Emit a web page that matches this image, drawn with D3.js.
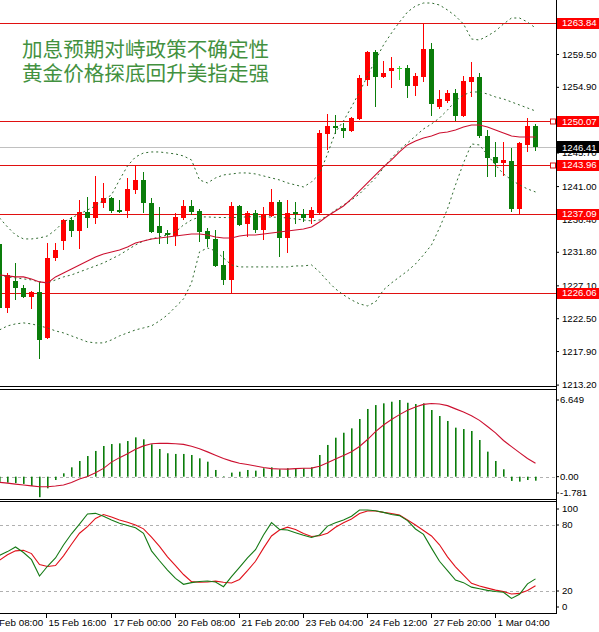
<!DOCTYPE html>
<html><head><meta charset="utf-8">
<script src="https://cdn.jsdelivr.net/npm/d3@7/dist/d3.min.js"></script>
<style>
body{margin:0;background:#fff}
svg{display:block;background:#fff}
text{font-family:"Liberation Sans",Arial,sans-serif}
</style>
</head><body>
<svg id="c" width="599" height="632"></svg>
<script>
// ---------------- DATA ----------------
const titleLines = ["加息预期对峙政策不确定性", "黄金价格探底回升美指走强"];
const firstBar = -1; // bar index of the first (partly visible) candle; bars -1..66, 4H
const open  = [1232.90,1223.94,1227.72,1226.74,1225.48,1226.18,1219.74,1230.94,1233.32,1236.26,1234.72,1237.38,1236.54,1238.64,1239.34,1237.66,1237.52,1240.46,1241.86,1238.64,1235.42,1234.44,1234.02,1236.54,1238.22,1237.52,1234.72,1233.60,1229.96,1227.86,1238.22,1235.70,1237.24,1234.86,1236.82,1238.78,1233.74,1237.38,1237.10,1236.54,1237.24,1248.30,1249.42,1249.14,1248.72,1250.40,1255.86,1259.78,1256.28,1257.12,1257.54,1257.54,1255.02,1256.28,1260.20,1252.08,1252.92,1254.04,1250.82,1255.58,1256.28,1248.02,1245.08,1244.24,1244.52,1237.80,1246.76,1249.42];
const high  = [1233.18,1228.84,1230.24,1227.16,1226.32,1227.58,1233.04,1233.04,1236.40,1236.68,1239.06,1239.48,1242.42,1241.44,1239.48,1239.06,1242.14,1243.96,1242.98,1239.34,1238.08,1234.86,1237.24,1239.06,1239.06,1237.80,1235.14,1234.86,1231.92,1238.78,1238.36,1237.52,1237.66,1238.08,1240.60,1239.06,1239.06,1238.78,1237.80,1238.08,1248.86,1251.10,1250.96,1249.84,1250.68,1256.56,1259.92,1260.06,1258.52,1259.08,1257.82,1257.96,1256.84,1263.84,1261.04,1254.46,1254.46,1254.60,1256.42,1258.38,1256.84,1248.86,1247.18,1247.18,1246.34,1247.18,1250.54,1249.70];
const low   = [1223.66,1223.24,1225.06,1225.34,1223.80,1216.80,1219.60,1230.52,1232.06,1233.88,1232.20,1235.14,1235.70,1237.94,1237.24,1237.24,1236.54,1239.90,1237.24,1234.44,1232.90,1232.90,1232.62,1236.26,1236.96,1233.18,1232.48,1229.68,1227.16,1226.06,1235.42,1233.88,1234.44,1233.46,1236.68,1231.08,1231.64,1235.70,1235.98,1235.70,1237.10,1246.06,1248.30,1247.74,1248.58,1250.26,1255.02,1252.08,1256.14,1254.74,1255.86,1253.34,1253.62,1255.58,1250.82,1251.80,1252.64,1250.12,1250.68,1253.48,1247.74,1242.28,1242.28,1242.42,1237.38,1237.09,1245.78,1245.92];
const close = [1223.94,1228.56,1226.74,1225.48,1226.18,1219.46,1230.94,1232.06,1236.26,1234.72,1237.38,1236.54,1238.78,1239.34,1237.52,1237.38,1240.60,1241.86,1238.64,1234.58,1234.44,1234.16,1236.68,1238.22,1237.38,1234.58,1233.60,1229.82,1227.86,1238.22,1235.56,1237.24,1234.86,1237.10,1238.78,1233.74,1237.24,1237.10,1236.54,1237.66,1248.44,1249.42,1249.14,1248.72,1250.54,1256.14,1259.78,1256.28,1256.84,1257.54,1257.54,1255.02,1256.42,1260.20,1252.50,1253.20,1254.04,1250.82,1255.72,1256.28,1248.02,1244.94,1244.24,1244.66,1237.80,1247.04,1249.42,1246.41];

const bbUpper  = [1236.54,1235.28,1234.16,1233.60,1233.60,1233.74,1234.02,1234.86,1235.98,1236.54,1237.10,1237.66,1238.22,1239.06,1239.76,1241.86,1243.82,1245.08,1245.64,1245.78,1245.78,1245.64,1245.50,1245.22,1244.66,1241.86,1241.44,1242.14,1242.56,1242.70,1242.84,1242.84,1242.70,1242.42,1242.14,1241.86,1241.44,1241.16,1240.88,1241.58,1242.70,1245.50,1248.58,1250.12,1252.08,1254.18,1256.42,1258.66,1260.76,1262.44,1263.98,1265.38,1266.22,1266.64,1266.64,1266.36,1265.66,1264.82,1263.70,1261.60,1261.46,1262.02,1262.72,1263.70,1264.54,1264.54,1263.98,1263.14];
const bbMiddle = [1228.42,1228.28,1228.14,1228.00,1227.86,1227.58,1227.44,1227.86,1228.28,1228.56,1228.98,1229.40,1229.82,1230.24,1230.80,1231.36,1232.06,1232.76,1233.32,1233.60,1233.88,1234.16,1234.58,1235.56,1236.26,1236.68,1236.68,1236.62,1236.60,1236.58,1236.62,1236.70,1236.72,1236.70,1236.66,1236.62,1236.54,1236.40,1236.26,1236.12,1236.26,1236.82,1237.66,1238.36,1239.06,1239.90,1241.02,1242.14,1243.54,1244.94,1246.06,1247.04,1248.02,1249.00,1249.70,1250.54,1251.66,1252.92,1253.76,1254.18,1254.18,1253.90,1253.48,1253.20,1252.78,1252.36,1251.94,1251.52];
const bbLower  = [1220.86,1221.42,1221.70,1221.84,1221.70,1221.42,1221.14,1220.72,1220.44,1220.02,1219.60,1219.18,1219.04,1219.04,1219.46,1220.02,1220.44,1220.86,1221.14,1221.42,1222.12,1222.96,1224.08,1225.20,1227.44,1231.78,1232.34,1231.92,1230.94,1229.96,1229.68,1229.68,1229.68,1229.68,1229.68,1229.68,1229.68,1229.82,1229.82,1229.96,1228.98,1227.72,1226.60,1225.76,1225.06,1224.50,1224.22,1224.78,1226.46,1227.44,1228.28,1229.12,1230.10,1231.36,1232.76,1235.14,1237.80,1241.16,1244.24,1246.90,1246.76,1245.36,1243.96,1242.70,1241.86,1241.16,1240.60,1240.18];
const maRed    = [1228.56,1228.42,1228.28,1228.28,1228.00,1227.58,1227.44,1228.28,1228.84,1229.40,1229.96,1230.52,1231.08,1231.50,1231.78,1232.06,1232.48,1233.04,1233.32,1233.60,1233.74,1233.88,1234.02,1234.16,1234.30,1234.30,1234.16,1233.88,1233.74,1233.74,1234.02,1234.16,1234.16,1234.30,1234.44,1234.58,1234.72,1234.86,1235.00,1235.28,1235.98,1236.82,1237.52,1238.22,1239.20,1240.32,1241.44,1242.56,1243.68,1244.66,1245.78,1246.76,1247.32,1247.74,1248.02,1248.44,1248.58,1248.86,1249.28,1249.56,1249.56,1249.28,1248.86,1248.44,1248.02,1247.88,1247.88,1247.88];

const macdHist   = [-0.45,-0.52,-0.57,-0.63,-0.81,-1.781,-1.01,-0.29,0.29,0.81,1.36,1.79,2.23,2.66,2.83,2.89,3.09,3.41,3.24,2.81,2.40,2.03,1.97,1.97,1.88,1.59,1.30,0.58,0.05,0.35,0.43,0.58,0.52,0.73,0.81,0.64,0.73,0.73,0.73,0.81,1.88,2.75,3.38,3.81,4.19,5.00,5.87,6.21,6.36,6.50,6.649,6.41,6.30,6.36,5.78,5.26,4.83,4.25,4.13,3.96,3.18,2.17,1.36,0.64,-0.37,-0.43,-0.29,-0.35];
const macdSignal = [-0.49,-0.56,-0.65,-0.72,-0.80,-0.87,-0.87,-0.81,-0.72,-0.50,-0.20,0.02,0.34,0.72,1.26,1.65,1.99,2.38,2.67,2.86,2.90,2.89,2.86,2.80,2.64,2.43,2.15,1.86,1.58,1.35,1.17,1.05,0.93,0.79,0.70,0.66,0.65,0.70,0.73,0.74,0.90,1.20,1.53,1.84,2.16,2.62,3.22,3.90,4.48,4.96,5.38,5.75,6.05,6.27,6.35,6.30,6.16,5.88,5.60,5.28,4.88,4.35,3.80,3.14,2.60,2.08,1.58,1.16];

const stochK = [52.5,55.8,60,55,48.5,33.6,42.5,50,61.8,72,80.8,90,90.6,88,84.5,81.5,79.5,77.5,72.4,56.5,47.5,39,31.5,26.1,27.6,28.6,29.1,28.2,23.9,33,41.5,50.2,57.5,70.9,82.2,76,75.5,73,70.6,68.6,71,79,82,84.5,88,93.6,93.6,93,91.5,89.5,88.5,84,76.4,71.5,59,47,38.5,30,27.6,23.5,22,20.6,19.6,18.8,13.3,17,26.5,31];
const stochD = [48,53,56.5,57,54,44,42.3,43.2,52,62.5,72.5,78.5,86,89.5,87.3,84.5,82.5,80,76.5,69,60.5,51,43,35,28.5,27.9,28.2,29,28,27.3,30.5,38.5,47,59,70,75.5,78,76,72.3,69.5,70.2,72.5,78,82,85.5,90.5,92.7,92.7,91.5,90.5,89,84.5,80,75,70,62,51,42,34.5,27,24.5,22.6,20.8,19.4,17.3,17.8,20.5,24.8];

const levels      = [1263.84, 1250.07, 1243.96, 1237.09, 1226.06];
const levelMarked = [false, true, true, false, false];
const lastPrice   = 1246.41;
const priceTicks  = [1213.20,1217.90,1222.50,1227.10,1231.80,1236.40,1241.00,1245.70,1250.30,1254.90,1259.50];
const macdTicks   = [6.649, 0.00, -1.781];
const macdTickText= ["6.649", "0.00", "-1.781"];
const stochTicks  = [100, 80, 20, 0];
const stochLevels = [80, 20];
const timeTickBars   = [-3, 5, 13, 21, 29, 37, 45, 53, 61];
const timeTickLabels = ["14 Feb 08:00","15 Feb 16:00","17 Feb 00:00","20 Feb 08:00","21 Feb 20:00","23 Feb 04:00","24 Feb 12:00","27 Feb 20:00","1 Mar 04:00"];

// ---------------- LAYOUT ----------------
const svg = d3.select("#c");
const plotR = 556;
const mainP  = {top: 0,   bottom: 387};
const macdP  = {top: 390, bottom: 499};
const stochP = {top: 502, bottom: 613};

const x  = d3.scaleLinear().domain([-1, 66]).range([-0.5, 535.5]);
const yP = d3.scaleLinear().domain([1213.20, 1263.84]).range([384.6, 23]);
const yM = d3.scaleLinear().domain([-1.781, 6.649]).range([497.2, 400]);
const yS = d3.scaleLinear().domain([0, 100]).range([613, 503]);

const barK = i => i + firstBar;

function clip(id, p){
  svg.append("clipPath").attr("id", id).append("rect")
    .attr("x", 0).attr("y", p.top).attr("width", plotR).attr("height", p.bottom - p.top);
}
clip("cMain", mainP); clip("cMacd", macdP); clip("cStoch", stochP);

const gMain = svg.append("g").attr("clip-path", "url(#cMain)");

// title
const gT = gMain.append("g");
titleLines.forEach((t, i) => {
  gT.append("text").attr("x", 22).attr("y", 57 + i * 24)
    .attr("fill", "#43913f").attr("font-size", 20.6)
    .style("font-family", '"Noto Sans CJK SC","Noto Sans CJK JP",sans-serif')
    .text(t);
});

// current price grey line
gMain.append("line").attr("x1", 0).attr("x2", plotR)
  .attr("y1", Math.round(yP(lastPrice)) + 0.5).attr("y2", Math.round(yP(lastPrice)) + 0.5)
  .attr("stroke", "#c0c0c0").attr("stroke-width", 1);

// level lines
levels.forEach((v, i) => {
  const yy = Math.round(yP(v)) + 0.5;
  gMain.append("line").attr("x1", 0).attr("x2", plotR).attr("y1", yy).attr("y2", yy)
    .attr("stroke", "#e01010").attr("stroke-width", 1);
  if (levelMarked[i]) {
    gMain.append("rect").attr("x", 550.5).attr("y", yy - 2.5).attr("width", 5).attr("height", 5)
      .attr("fill", "#fff").attr("stroke", "#e01010").attr("stroke-width", 1);
  }
});

// candles
const bull = "#ff0000", bear = "#0a7d0a", doji = "#33dd33";
d3.range(open.length).forEach(i => {
  const k = barK(i), cx = x(k);
  const o = open[i], c = close[i];
  const col = c > o ? bull : (c < o ? bear : doji);
  gMain.append("line").attr("x1", cx).attr("x2", cx)
    .attr("y1", yP(high[i])).attr("y2", yP(low[i]))
    .attr("stroke", col).attr("stroke-width", 1).attr("shape-rendering", "crispEdges");
  if (c === o) {
    gMain.append("line").attr("x1", cx - 2.5).attr("x2", cx + 2.5)
      .attr("y1", Math.round(yP(o)) + 0.5).attr("y2", Math.round(yP(o)) + 0.5)
      .attr("stroke", col).attr("stroke-width", 1);
  } else {
    const y1 = yP(Math.max(o, c)), y2 = yP(Math.min(o, c));
    gMain.append("rect").attr("x", cx - 2.5).attr("width", 5)
      .attr("y", y1).attr("height", Math.max(1, y2 - y1))
      .attr("fill", col).attr("shape-rendering", "crispEdges");
  }
});

// bollinger bands & red MA
const lineP = d3.line().x((d, i) => x(barK(i))).y(d => yP(d));
[bbUpper, bbMiddle, bbLower].forEach(arr => {
  gMain.append("path").attr("d", lineP(arr)).attr("fill", "none")
    .attr("stroke", "#2f6a2f").attr("stroke-width", 1).attr("stroke-dasharray", "2,3");
});
gMain.append("path").attr("d", lineP(maRed)).attr("fill", "none")
  .attr("stroke", "#cc1030").attr("stroke-width", 1.1);

// ---------------- MACD ----------------
const gMacd = svg.append("g").attr("clip-path", "url(#cMacd)");
gMacd.append("line").attr("x1", 0).attr("x2", plotR)
  .attr("y1", Math.round(yM(0)) + 0.5).attr("y2", Math.round(yM(0)) + 0.5)
  .attr("stroke", "#b0b0b0").attr("stroke-dasharray", "3,3");
macdHist.forEach((v, i) => {
  const cx = x(barK(i));
  const y0 = yM(0), y1 = yM(v);
  gMacd.append("rect").attr("x", cx - 0.5).attr("width", 1.6)
    .attr("y", Math.min(y0, y1)).attr("height", Math.abs(y1 - y0))
    .attr("fill", "#0a7d0a");
});
const lineM = d3.line().x((d, i) => x(barK(i))).y(d => yM(d));
gMacd.append("path").attr("d", lineM(macdSignal)).attr("fill", "none")
  .attr("stroke", "#cc1030").attr("stroke-width", 1.1);

// ---------------- STOCHASTIC ----------------
const gSt = svg.append("g").attr("clip-path", "url(#cStoch)");
stochLevels.forEach(v => {
  gSt.append("line").attr("x1", 0).attr("x2", plotR)
    .attr("y1", Math.round(yS(v)) + 0.5).attr("y2", Math.round(yS(v)) + 0.5)
    .attr("stroke", "#b0b0b0").attr("stroke-dasharray", "3,3");
});
const lineS = d3.line().x((d, i) => x(barK(i))).y(d => yS(d));
gSt.append("path").attr("d", lineS(stochD)).attr("fill", "none")
  .attr("stroke", "#e0101a").attr("stroke-width", 1.1);
gSt.append("path").attr("d", lineS(stochK)).attr("fill", "none")
  .attr("stroke", "#157a15").attr("stroke-width", 1.1);

// ---------------- FRAMES ----------------
const frame = svg.append("g").attr("stroke", "#000").attr("stroke-width", 1).attr("shape-rendering", "crispEdges");
[mainP.bottom - 0.5, macdP.top - 0.5, macdP.bottom + 0.5, stochP.top - 0.5, stochP.bottom + 0.5].forEach(yy => {
  frame.append("line").attr("x1", 0).attr("x2", plotR).attr("y1", yy).attr("y2", yy);
});
frame.append("line").attr("x1", plotR + 0.5).attr("x2", plotR + 0.5).attr("y1", 0).attr("y2", stochP.bottom + 0.5);

// ---------------- AXES ----------------
const fs = 9.6;
const axP = d3.axisRight(yP).tickValues(priceTicks).tickFormat(d3.format(".2f")).tickSize(3).tickPadding(3);
const gAx = svg.append("g").attr("transform", `translate(${plotR},0)`).call(axP);
gAx.select(".domain").remove();
gAx.selectAll("text").attr("font-size", fs).attr("fill", "#000").style("font-family", '"Liberation Sans",Arial,sans-serif');

// level label boxes
levels.forEach(v => {
  const yy = yP(v);
  svg.append("rect").attr("x", plotR + 1).attr("y", Math.round(yy) - 5).attr("width", 43).attr("height", 11).attr("fill", "#ff0000");
  svg.append("text").attr("x", plotR + 6).attr("y", yy).attr("dy", "0.35em")
    .attr("font-size", fs).attr("fill", "#fff").text(d3.format(".2f")(v));
});
// last price box
{
  const yy = yP(lastPrice);
  svg.append("rect").attr("x", plotR + 1).attr("y", Math.round(yy) - 6).attr("width", 43).attr("height", 12).attr("fill", "#000");
  svg.append("text").attr("x", plotR + 6).attr("y", yy).attr("dy", "0.35em")
    .attr("font-size", fs).attr("fill", "#fff").text(d3.format(".2f")(lastPrice));
}

// MACD axis
macdTicks.forEach((v, i) => {
  const yy = Math.max(macdP.top + 6, Math.min(macdP.bottom - 6, yM(v)));
  svg.append("line").attr("x1", plotR).attr("x2", plotR + 3).attr("y1", yy).attr("y2", yy).attr("stroke", "#000");
  svg.append("text").attr("x", plotR + 4).attr("y", yy).attr("dy", "0.35em")
    .attr("font-size", fs).attr("fill", "#000").text(macdTickText[i]);
});
// Stoch axis
stochTicks.forEach(v => {
  const yy = Math.max(stochP.top + 7, Math.min(stochP.bottom - 6, yS(v)));
  svg.append("line").attr("x1", plotR).attr("x2", plotR + 3).attr("y1", yy).attr("y2", yy).attr("stroke", "#000");
  svg.append("text").attr("x", plotR + 6).attr("y", yy).attr("dy", "0.35em")
    .attr("font-size", fs).attr("fill", "#000").text(v);
});

// time axis
timeTickBars.forEach((k, i) => {
  const xx = Math.round(x(k)) - 0.5;
  svg.append("line").attr("x1", xx).attr("x2", xx).attr("y1", stochP.bottom).attr("y2", stochP.bottom + 5)
    .attr("stroke", "#000").attr("shape-rendering", "crispEdges");
  svg.append("text").attr("x", xx + 2).attr("y", 626)
    .attr("font-size", fs + 0.2).attr("fill", "#000").text(timeTickLabels[i]);
});
</script>
</body></html>
